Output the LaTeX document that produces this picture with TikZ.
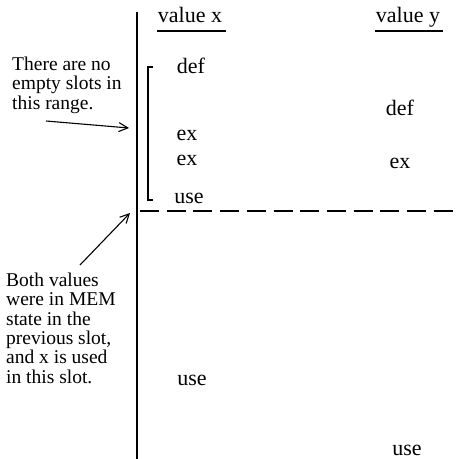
\documentclass[tikz,border=0pt]{standalone}
\usepackage{fontspec}
\setmainfont{Liberation Serif}
\usetikzlibrary{arrows.meta}
\begin{document}
\begin{tikzpicture}[x=1pt,y=-1pt,
  lbl/.style={font=\fontsize{22}{22}\selectfont, inner sep=0pt, anchor=base},
  note/.style={font=\fontsize{19.5}{19.3}\selectfont, inner sep=0pt, anchor=base west, align=left},
  rule/.style={line width=1.4pt},
  ptr/.style={line width=1.1pt, -{Straight Barb[length=9pt,width=9pt]}}]
\useasboundingbox (0,0) rectangle (456,459);

% time axis
\coordinate (axtop) at (137,12);
\coordinate (axbot) at (137,459);
\draw[rule] (axtop) -- (axbot);

% column headings
\node[lbl] (hx) at (190,22) {value x};
\node[lbl] (hy) at (408,22) {value y};
\coordinate (uxl) at (157,31); \coordinate (uxr) at (226,31);
\coordinate (uyl) at (375,31); \coordinate (uyr) at (443,31);
\draw[rule] (uxl) -- (uxr);
\draw[rule] (uyl) -- (uyr);

% events of value x
\node[lbl] (xdef) at (191,73) {def};
\node[lbl] (xex1) at (187,140) {ex};
\node[lbl] (xex2) at (187,165) {ex};
\node[lbl] (xuse1) at (189,203) {use};
\node[lbl] (xuse2) at (192,385) {use};

% events of value y
\node[lbl] (ydef) at (400,115) {def};
\node[lbl] (yex) at (400,168) {ex};
\node[lbl] (yuse) at (407,455) {use};

% range bracket
\coordinate (bt) at (153,67); \coordinate (bb) at (153,200);
\draw[line width=1.1pt] (bt) -- ++(-5,0) |- (bb);

% slot boundary
\coordinate (dl) at (140,211); \coordinate (dr) at (456,211);
\draw[rule, dash pattern=on 19pt off 7.7pt] (dl) -- (dr);

% annotations (anchored at the baseline of their last line)
\node[note] (n1) at (12,109) {There are no\\empty slots in\\this range.};
\coordinate (a1s) at (46,121); \coordinate (a1e) at (129,128);
\draw[ptr] (a1s) -- (a1e);

\node[note] (n2) at (6,383) {Both values\\were in MEM\\state in the\\previous slot,\\and x is used\\in this slot.};
\coordinate (a2s) at (80,265); \coordinate (a2e) at (130,213);
\draw[ptr] (a2s) -- (a2e);
\end{tikzpicture}
\end{document}
